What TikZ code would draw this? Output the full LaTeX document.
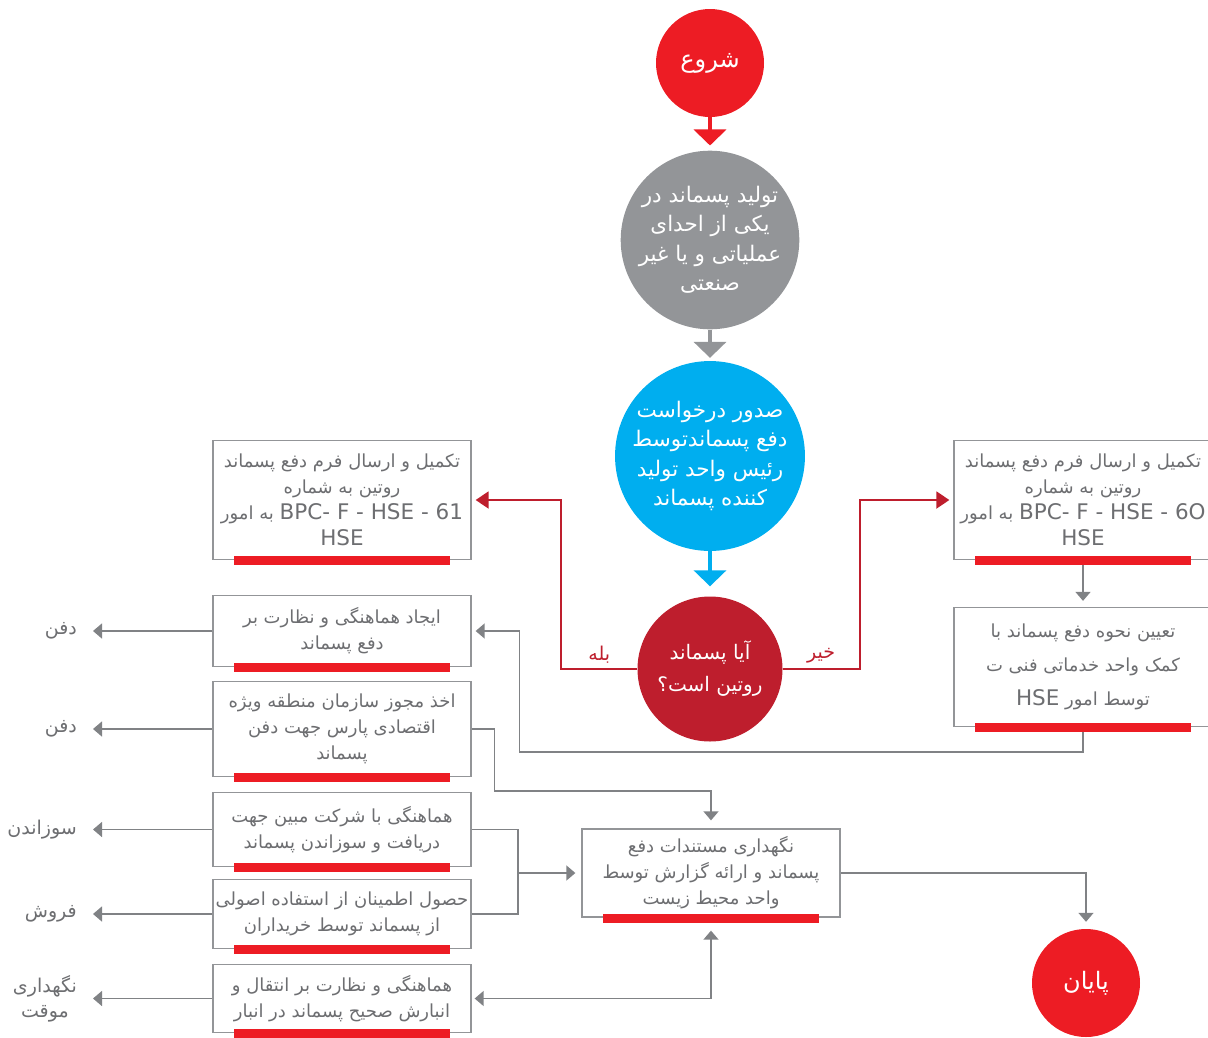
\documentclass[tikz,border=0pt]{standalone}
\usepackage{fontspec}
\newfontfamily\arabicfont[Script=Arabic]{DejaVu Sans}
\TeXXeTstate=1
\usetikzlibrary{arrows.meta,positioning}
\definecolor{startred}{HTML}{ED1C24}
\definecolor{prodgray}{HTML}{939598}
\definecolor{reqblue}{HTML}{00AEEF}
\definecolor{decred}{HTML}{BE1E2D}
\definecolor{boxgray}{HTML}{939598}
\definecolor{txtgray}{HTML}{6D6E71}
\definecolor{linegray}{HTML}{808285}
\newcommand{\fa}[1]{\beginR #1\endR}
\newcommand{\la}[1]{\beginL{\fontsize{21.5}{26}\selectfont #1}\endL{}}
\tikzstyle{startend} = [circle, fill=startred, text=white, minimum size=108pt, inner sep=0pt,
    font=\arabicfont\fontsize{24}{30}\selectfont]
\tikzstyle{bigcirc} = [circle, text=white, minimum size=176pt, inner sep=0pt, align=center,
    font=\arabicfont\fontsize{21.5}{29.5}\selectfont]
\tikzstyle{decide} = [circle, fill=decred, text=white, minimum size=145pt, inner sep=0pt, align=center,
    font=\arabicfont\fontsize{20}{32}\selectfont]
\tikzstyle{box} = [draw=boxgray, line width=1.3pt, fill=white, rectangle,
    minimum width=258pt, inner xsep=0pt, inner ysep=0pt, align=center, text=txtgray,
    font=\arabicfont\fontsize{18}{26}\selectfont]
\tikzstyle{outcome} = [anchor=east, align=center, inner xsep=16pt, text=txtgray,
    font=\arabicfont\fontsize{19}{25}\selectfont]
\tikzstyle{answer} = [text=decred, inner sep=5pt, font=\arabicfont\fontsize{19}{22}\selectfont]
\tikzstyle{line} = [draw=linegray, line width=1.5pt]
\tikzstyle{arrow} = [line, -{Triangle[width=15pt,length=9pt]}]
\tikzstyle{mainarrow} = [line width=4pt, -{Triangle[width=32pt,length=16pt]}]
\tikzstyle{decision} = [draw=decred, line width=2pt, -{Triangle[width=17pt,length=13pt]}]
\tikzstyle{bar} = [fill=startred]

\begin{document}
\begin{tikzpicture}[x=1pt,y=-1pt]
    \useasboundingbox (0,0) rectangle (1208,1037);
    \clip (0,0) rectangle (1208,1037);
    % main column
    \node [startend] (start) at (710,63) {\fa{شروع}};
    \node [bigcirc, fill=prodgray, below of=start, node distance=177pt] (produce)
        {\fa{تولید پسماند در}\\\fa{یکی از احدای}\\\fa{عملیاتی و یا غیر}\\\fa{صنعتی}};
    \node [bigcirc, fill=reqblue, below of=produce, node distance=216pt] (request)
        {\fa{صدور درخواست}\\\fa{دفع پسماندتوسط}\\\fa{رئیس واحد تولید}\\\fa{کننده پسماند}};
    \node [decide, below of=request, node distance=213pt] (routine)
        {\fa{آیا پسماند}\\\fa{روتین است؟}};
    % left column
    \node [box, minimum height=119pt] (formA) at (342,500)
        {\fa{تکمیل و ارسال فرم دفع پسماند}\\\fa{روتین به شماره}\\\fa{\la{BPC- F - HSE - 61} به امور}\\\fa{\la{HSE}}};
    \node [box, minimum height=71pt, below of=formA, node distance=131pt] (coord)
        {\fa{ایجاد هماهنگی و نظارت بر}\\\fa{دفع پسماند}};
    \node [box, minimum height=95pt, below of=coord, node distance=98pt] (permit)
        {\fa{اخذ مجوز سازمان منطقه ویژه}\\\fa{اقتصادی پارس جهت دفن}\\\fa{پسماند}};
    \node [box, minimum height=74pt, below of=permit, node distance=100.5pt] (incinerate)
        {\fa{هماهنگی با شرکت مبین جهت}\\\fa{دریافت و سوزاندن پسماند}};
    \node [box, minimum height=69pt, below of=incinerate, node distance=84.5pt] (sale)
        {\fa{حصول اطمینان از استفاده اصولی}\\\fa{از پسماند توسط خریداران}};
    \node [box, minimum height=68pt, below of=sale, node distance=84.5pt] (storage)
        {\fa{هماهنگی و نظارت بر انتقال و}\\\fa{انبارش صحیح پسماند در انبار}};
    % right column
    \node [box, minimum height=119pt, right of=formA, node distance=741pt] (formB)
        {\fa{تکمیل و ارسال فرم دفع پسماند}\\\fa{روتین به شماره}\\\fa{\la{BPC- F - HSE - 6O} به امور}\\\fa{\la{HSE}}};
    \node [box, minimum height=119pt, below of=formB, node distance=167pt] (method)
        {\fa{تعیین نحوه دفع پسماند با}\\[8pt]\fa{کمک واحد خدماتی فنی ت}\\[8pt]\fa{توسط امور \la{HSE}}};
    \node [box, minimum height=88pt] (docs) at (711,873)
        {\fa{نگهداری مستندات دفع}\\\fa{پسماند و ارائه گزارش توسط}\\\fa{واحد محیط زیست}};
    \node [startend] (finish) at (1086,983) {\fa{پایان}};
    % outcomes
    \coordinate (outcol) at (93,0);
    \node [outcome] (buryA) at (coord.west -| outcol) {\fa{دفن}};
    \node [outcome] (buryB) at (permit.west -| outcol) {\fa{دفن}};
    \node [outcome] (burn) at (incinerate.west -| outcol) {\fa{سوزاندن}};
    \node [outcome] (sell) at (sale.west -| outcol) {\fa{فروش}};
    \node [outcome] (keep) at (storage.west -| outcol) {\fa{نگهداری}\\\fa{موقت}};
    \coordinate (merge) at (518,873);

    \draw [mainarrow, draw=startred, shorten >=5pt] (start) -- (produce);
    \draw [mainarrow, draw=prodgray, shorten >=3pt] (produce) -- (request);
    \draw [mainarrow, draw=reqblue, shorten >=10pt] (request) -- (routine);
    \draw [decision, shorten >=4pt] (routine.west) -- node [answer, above] {\fa{بله}} ++(-76,0) |- (formA.east);
    \draw [decision, shorten >=4pt] (routine.east) -- node [answer, above] {\fa{خیر}} ++(77,0) |- (formB.west);
    \draw [arrow, shorten >=6pt] (formB) -- (method);
    \draw [arrow, shorten >=4pt] (method.south) -- ++(0,25) -| ([xshift=48pt]coord.east) -- (coord.east);
    \draw [arrow, shorten >=8pt] (permit.east) -- ++(23,0) -- ++(0,62) -| (docs.north);
    \draw [line] (incinerate.east) -| (merge) |- (sale.east);
    \draw [arrow, shorten >=6pt] (merge) -- (docs.west);
    \draw [line, {Triangle[width=15pt,length=9pt]}-{Triangle[width=15pt,length=9pt]},
        shorten <=3pt, shorten >=13pt] (storage.east) -| (docs.south);
    \draw [arrow, shorten >=7pt] (docs.east) -| (finish);
    \foreach \a/\b in {coord/buryA, permit/buryB, incinerate/burn, sale/sell, storage/keep}
        \draw [arrow] (\a.west) -- (\b.east);
    % red bars
    \foreach \b in {formA, coord, permit, incinerate, sale, storage, formB, method, docs}
        \fill [bar] ([xshift=-108pt,yshift=4pt]\b.south) rectangle ([xshift=108pt,yshift=-5pt]\b.south);
\end{tikzpicture}
\end{document}
